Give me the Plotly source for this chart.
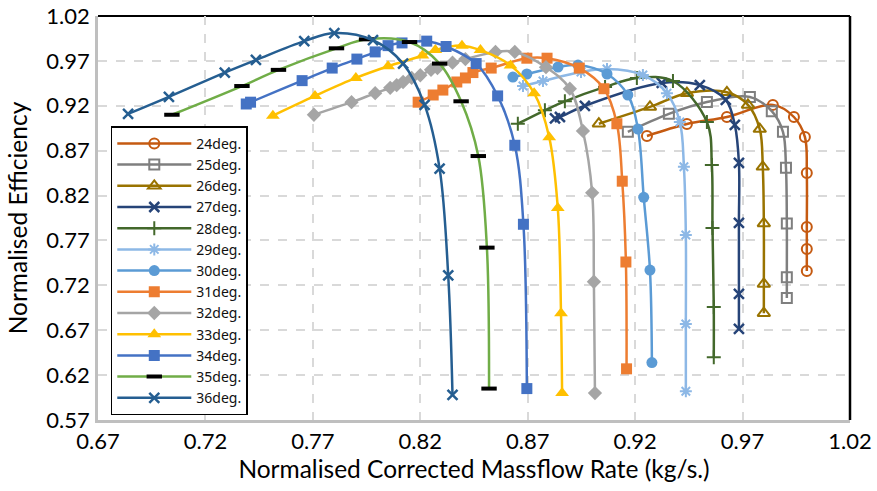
import plotly.graph_objects as go

# ---- data ----
x24 = [0.9255, 0.9441, 0.9627, 0.9841, 0.9939, 0.9990, 0.9999, 0.9999, 0.9999, 0.9999]
y24 = [0.8864, 0.8997, 0.9075, 0.9210, 0.9075, 0.8853, 0.8452, 0.7850, 0.7605, 0.7360]

x25 = [0.9166, 0.9357, 0.9534, 0.9734, 0.9836, 0.9888, 0.9902, 0.9906, 0.9906, 0.9906]
y25 = [0.8910, 0.9110, 0.9242, 0.9298, 0.9140, 0.8910, 0.8510, 0.7890, 0.7290, 0.7060]

x26 = [0.9031, 0.9269, 0.9441, 0.9627, 0.9725, 0.9780, 0.9794, 0.9799, 0.9799, 0.9799]
y26 = [0.9000, 0.9187, 0.9340, 0.9350, 0.9210, 0.8940, 0.8520, 0.7890, 0.7216, 0.6890]

x27 = [0.8827, 0.8850, 0.8966, 0.9324, 0.9501, 0.9622, 0.9664, 0.9683, 0.9683, 0.9683, 0.9683]
y27 = [0.9060, 0.9075, 0.9200, 0.9454, 0.9430, 0.9265, 0.8986, 0.8563, 0.7895, 0.7104, 0.6714]

x28 = [0.8654, 0.8780, 0.8873, 0.9060, 0.9208, 0.9376, 0.9534, 0.9557, 0.9560, 0.9566, 0.9566]
y28 = [0.9000, 0.9150, 0.9250, 0.9410, 0.9510, 0.9476, 0.9020, 0.8540, 0.7840, 0.6960, 0.6400]

x29 = [0.8678, 0.8771, 0.8948, 0.9069, 0.9236, 0.9348, 0.9408, 0.9427, 0.9436, 0.9436, 0.9436]
y29 = [0.9420, 0.9476, 0.9576, 0.9610, 0.9543, 0.9340, 0.9020, 0.8520, 0.7760, 0.6770, 0.6020]

x30 = [0.8631, 0.8696, 0.8841, 0.8934, 0.9069, 0.9166, 0.9213, 0.9240, 0.9269, 0.9278]
y30 = [0.9520, 0.9554, 0.9632, 0.9654, 0.9554, 0.9320, 0.8940, 0.8180, 0.7370, 0.6340]

x31 = [0.8190, 0.8260, 0.8305, 0.8370, 0.8410, 0.8445, 0.8530, 0.8696, 0.8790, 0.8940,
       0.9055, 0.9115, 0.9140, 0.9157, 0.9160]
y31 = [0.9240, 0.9320, 0.9375, 0.9465, 0.9510, 0.9570, 0.9620, 0.9730, 0.9730, 0.9620,
       0.9390, 0.9000, 0.8360, 0.7460, 0.6270]

x32 = [0.7705, 0.7880, 0.7990, 0.8060, 0.8090, 0.8120, 0.8160, 0.8200, 0.8250, 0.8280,
       0.8350, 0.8410, 0.8550, 0.8640, 0.8785, 0.8896, 0.8957, 0.9000, 0.9008, 0.9013]
y32 = [0.9100, 0.9240, 0.9340, 0.9400, 0.9430, 0.9465, 0.9510, 0.9540, 0.9600, 0.9620,
       0.9680, 0.9720, 0.9800, 0.9800, 0.9630, 0.9390, 0.8920, 0.8230, 0.7240, 0.6000]

x33 = [0.7514, 0.7710, 0.7900, 0.8050, 0.8210, 0.8270, 0.8394, 0.8480, 0.8620, 0.8730,
       0.8800, 0.8840, 0.8855, 0.8860]
y33 = [0.9090, 0.9310, 0.9510, 0.9640, 0.9760, 0.9820, 0.9870, 0.9820, 0.9650, 0.9340,
       0.8850, 0.8060, 0.6890, 0.6000]

x34 = [0.7390, 0.7410, 0.7650, 0.7790, 0.7905, 0.7990, 0.8050, 0.8115, 0.8230, 0.8320,
       0.8460, 0.8560, 0.8640, 0.8680, 0.8696]
y34 = [0.9220, 0.9240, 0.9480, 0.9620, 0.9720, 0.9800, 0.9870, 0.9900, 0.9920, 0.9860,
       0.9670, 0.9310, 0.8760, 0.7880, 0.6050]

x35 = [0.7044, 0.7370, 0.7540, 0.7810, 0.7950, 0.8150, 0.8290, 0.8390, 0.8470, 0.8510, 0.8520]
y35 = [0.9100, 0.9420, 0.9600, 0.9840, 0.9940, 0.9910, 0.9670, 0.9250, 0.8640, 0.7620, 0.6050]

x36 = [0.6840, 0.7030, 0.7290, 0.7435, 0.7660, 0.7800, 0.7980, 0.8120, 0.8220, 0.8290, 0.8330, 0.8350]
y36 = [0.9110, 0.9300, 0.9570, 0.9710, 0.9920, 1.0010, 0.9930, 0.9670, 0.9210, 0.8500, 0.7310, 0.5980]

names = ["24deg.", "25deg.", "26deg.", "27deg.", "28deg.", "29deg.", "30deg.",
         "31deg.", "32deg.", "33deg.", "34deg.", "35deg.", "36deg."]
xs = [x24, x25, x26, x27, x28, x29, x30, x31, x32, x33, x34, x35, x36]
ys = [y24, y25, y26, y27, y28, y29, y30, y31, y32, y33, y34, y35, y36]

x_ticks = [0.67, 0.72, 0.77, 0.82, 0.87, 0.92, 0.97, 1.02]
y_ticks = [0.57, 0.62, 0.67, 0.72, 0.77, 0.82, 0.87, 0.92, 0.97, 1.02]

# ---- styles ----
colors = ["#C55A11", "#7F7F7F", "#997300", "#264478", "#43682B", "#8DB8E6", "#5B9BD5",
          "#ED7D31", "#A5A5A5", "#FFC000", "#4472C4", "#70AD47", "#255E91"]


def marker_for(i, c):
    if i == 0:
        return dict(symbol="circle-open", size=10, color=c, line=dict(width=2, color=c))
    if i == 1:
        return dict(symbol="square-open", size=10, color=c, line=dict(width=2, color=c))
    if i == 2:
        return dict(symbol="triangle-up-open", size=11, color=c, line=dict(width=2, color=c))
    if i in (3, 12):
        return dict(symbol="x-thin", size=10, color=c, line=dict(width=2.5, color=c))
    if i == 4:
        return dict(symbol="cross-thin", size=10, color=c, line=dict(width=2, color=c))
    if i == 5:
        return dict(symbol="asterisk", size=10, color=c, line=dict(width=2, color=c))
    if i == 6:
        return dict(symbol="circle", size=11, color=c)
    if i in (7, 10):
        return dict(symbol="square", size=11, color=c)
    if i == 8:
        return dict(symbol="diamond", size=11, color=c)
    if i == 9:
        return dict(symbol="triangle-up", size=12, color=c)
    if i == 11:
        return dict(symbol="line-ew", size=11, color="black", line=dict(width=4, color="black"))


fig = go.Figure()
for i in range(len(names)):
    c = colors[i]
    fig.add_trace(go.Scatter(
        x=xs[i], y=ys[i], name=names[i], mode="lines+markers",
        line=dict(color=c, width=2.5, shape="spline", smoothing=1.0),
        marker=marker_for(i, c),
    ))

fnt = "Lato, 'Open Sans', sans-serif"
fig.update_layout(
    width=877, height=491,
    margin=dict(l=98, r=27, t=16, b=71, autoexpand=False),
    paper_bgcolor="white", plot_bgcolor="white",
    font=dict(family=fnt, color="black", size=20),
    showlegend=True,
    legend=dict(
        x=0.017, y=0.727, xanchor="left", yanchor="top",
        bgcolor="white", bordercolor="black", borderwidth=1.5,
        font=dict(size=14, family="'Noto Sans', sans-serif", color="#111"),
        itemwidth=74, tracegroupgap=0,
    ),
    xaxis=dict(
        range=[0.67, 1.02], tickvals=x_ticks, ticktext=[f"{v:.2f}" for v in x_ticks],
        showgrid=True, gridcolor="#D9D9D9", griddash="dash", gridwidth=1.5,
        showline=True, linecolor="#BFBFBF", linewidth=2.5, zeroline=False,
        ticks="", tickfont=dict(size=22), automargin=False, ticklabelstandoff=0,
        title=dict(text="Normalised Corrected Massflow Rate (kg/s.)", font=dict(size=24.5), standoff=8),
    ),
    yaxis=dict(
        range=[0.57, 1.02], tickvals=y_ticks, ticktext=[f"{v:.2f}" for v in y_ticks],
        showgrid=True, gridcolor="#D9D9D9", griddash="dash", gridwidth=1.5,
        showline=True, linecolor="#BFBFBF", linewidth=2.5, zeroline=False,
        ticks="", tickfont=dict(size=22), automargin=False, ticklabelstandoff=1,
        title=dict(text="Normalised Efficiency", font=dict(size=24.5), standoff=12),
    ),
    shapes=[
        dict(type="line", xref="paper", yref="paper", x0=0, x1=1, y0=1, y1=1,
             line=dict(color="black", width=2), layer="below"),
        dict(type="line", xref="paper", yref="paper", x0=1, x1=1, y0=0, y1=1,
             line=dict(color="black", width=2.5), layer="below"),
    ],
)

fig.write_html("out.html", config={"displayModeBar": False},
               post_script="document.body.style.margin='0';")
